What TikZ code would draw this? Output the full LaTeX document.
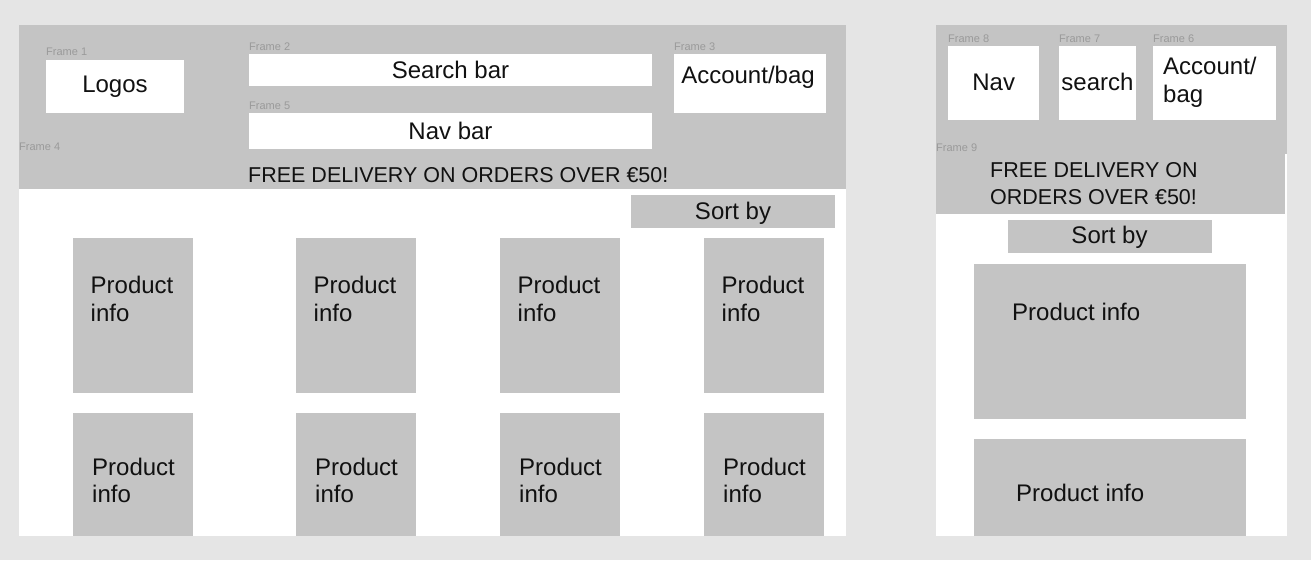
\documentclass[tikz,border=0pt]{standalone}
\usepackage{fontspec}
\setmainfont{Liberation Sans}
\definecolor{bgc}{HTML}{E5E5E5}
\definecolor{grayc}{HTML}{C4C4C4}
\definecolor{lblc}{HTML}{9A9A9A}
\definecolor{txtc}{HTML}{111111}
\tikzset{
  area/.style={inner sep=0pt, outer sep=0pt, draw=none, anchor=north west},
  gbox/.style={area, fill=grayc},
  wbox/.style={area, fill=white},
  bigtxt/.style={font=\fontsize{24}{28}\selectfont, text=txtc},
  midtxt/.style={font=\fontsize{21.5}{28}\selectfont, text=txtc},
  lbl/.style={font=\fontsize{11}{12}\selectfont, text=lblc, anchor=base west, inner sep=0pt},
  tl/.style={inner sep=0pt, anchor=base west},
  tc/.style={inner sep=0pt, anchor=base},
}
\begin{document}
\begin{tikzpicture}[x=1pt,y=-1pt]
\useasboundingbox (0,0) rectangle (1311,560);
\fill[bgc] (0,0) rectangle (1311,560);

% ===== Left (desktop) =====
\node[wbox, minimum width=827pt, minimum height=511pt] (lbody) at (19,25) {};
\node[gbox, minimum width=827pt, minimum height=164pt] (lhead) at (19,25) {};

\node[wbox, minimum width=138pt, minimum height=53pt] (logos) at (46,60) {};
\node[bigtxt, tc] (logost) at (115,92.5) {Logos};
\node[lbl] (f1) at (46,55.5) {Frame 1};

\node[wbox, minimum width=403pt, minimum height=32pt] (search) at (249,54) {};
\node[bigtxt, tc] (searcht) at (450.5,78.3) {Search bar};
\node[lbl] (f2) at (249,50) {Frame 2};

\node[wbox, minimum width=403pt, minimum height=36pt] (nav) at (249,113) {};
\node[bigtxt, tc] (navt) at (450.5,139.3) {Nav bar};
\node[lbl] (f5) at (249,109) {Frame 5};

\node[wbox, minimum width=152pt, minimum height=59pt] (acct) at (674,54) {};
\node[bigtxt, tc] (acctt) at (748,83) {Account/bag};
\node[lbl] (f3) at (674,50) {Frame 3};

\node[lbl] (f4) at (19,150) {Frame 4};
\node[midtxt, tl] (free) at (248,182.5) {FREE DELIVERY ON ORDERS OVER €50!};

\node[gbox, minimum width=204pt, minimum height=33pt] (sort) at (631,195) {};
\node[bigtxt, tc] (sortt) at (733,219.5) {Sort by};

\foreach \x [count=\i] in {73,296,500,704}{
  \node[gbox, minimum width=120pt, minimum height=155pt] (pa\i) at (\x,238) {};
  \node[bigtxt, tl] (pa\i a) at (\x+17.5,293) {Product};
  \node[bigtxt, tl] (pa\i b) at (\x+17.5,321) {info};
  \node[gbox, minimum width=120pt, minimum height=123pt] (pb\i) at (\x,413) {};
  \node[bigtxt, tl] (pb\i a) at (\x+19,475) {Product};
  \node[bigtxt, tl] (pb\i b) at (\x+19,502.5) {info};
}

% ===== Right (mobile) =====
\node[wbox, minimum width=351pt, minimum height=382pt] (rbody) at (936,154) {};
\node[gbox, minimum width=351pt, minimum height=129pt] (rhead) at (936,25) {};
\node[gbox, minimum width=349pt, minimum height=60pt] (rband) at (936,154) {};

\node[wbox, minimum width=91pt, minimum height=74pt] (rnav) at (948,46) {};
\node[bigtxt, tc] (rnavt) at (993.7,90.7) {Nav};
\node[lbl] (f8) at (948,42) {Frame 8};

\node[wbox, minimum width=77pt, minimum height=74pt] (rsearch) at (1059,46) {};
\node[bigtxt, tc] (rsearcht) at (1097.5,90.7) {search};
\node[lbl] (f7) at (1059,42) {Frame 7};

\node[wbox, minimum width=123pt, minimum height=74pt] (racct) at (1153,46) {};
\node[bigtxt, tl] (racct1) at (1163,74) {Account/};
\node[bigtxt, tl] (racct2) at (1163,102) {bag};
\node[lbl] (f6) at (1153,42) {Frame 6};

\node[lbl] (f9) at (936,151) {Frame 9};
\node[midtxt, tl] (rfree1) at (990,177) {FREE DELIVERY ON};
\node[midtxt, tl] (rfree2) at (990,204.7) {ORDERS OVER €50!};

\node[gbox, minimum width=204pt, minimum height=33pt] (rsort) at (1008,220) {};
\node[bigtxt, tc] (rsortt) at (1109.5,243.5) {Sort by};

\node[gbox, minimum width=272pt, minimum height=155pt] (rp1) at (974,264) {};
\node[bigtxt, tl] (rp1t) at (1012,320) {Product info};
\node[gbox, minimum width=272pt, minimum height=97pt] (rp2) at (974,439) {};
\node[bigtxt, tl] (rp2t) at (1016,501) {Product info};
\end{tikzpicture}
\end{document}
